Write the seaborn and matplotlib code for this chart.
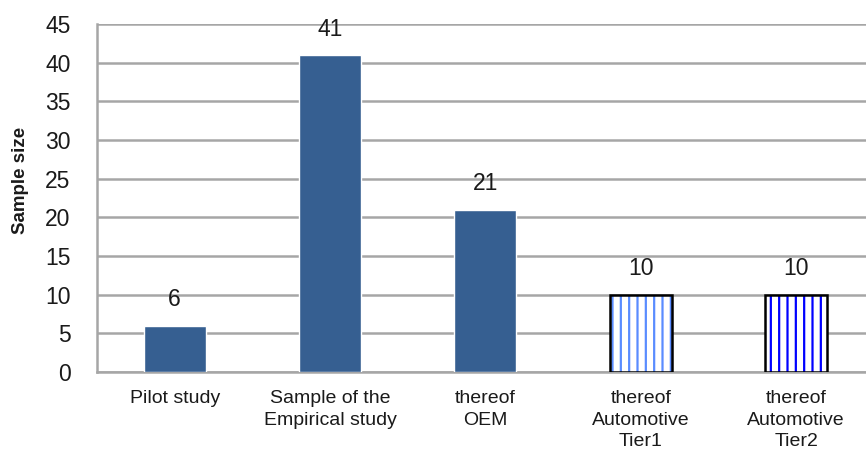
import matplotlib
matplotlib.use("Agg")
import matplotlib.pyplot as plt
from matplotlib.patches import Rectangle
import seaborn as sns
import pandas as pd

categories = ["Pilot study", "Sample of the\nEmpirical study", "thereof\nOEM",
              "thereof\nAutomotive\nTier1", "thereof\nAutomotive\nTier2"]
values = [6, 41, 21, 10, 10]
yticks = [0, 5, 10, 15, 20, 25, 30, 35, 40, 45]

solid_color = "#365F91"
hatch_colors = {3: "#5A8CFF", 4: "#0000FF"}
grid_color = "#A6A6A6"
text_color = "#1a1a1a"

sns.set_theme(style="white")
plt.rcParams["font.family"] = ["Liberation Sans", "DejaVu Sans"]
plt.rcParams["hatch.linewidth"] = 1.6

df = pd.DataFrame({"category": categories, "value": values})

fig = plt.figure(figsize=(8.66, 4.54), dpi=100)
ax = fig.add_axes([0.112, 0.1806, 0.888, 0.7665])

sns.barplot(data=df, x="category", y="value", color=solid_color,
            width=0.4, saturation=1, ax=ax, zorder=3)

# Hatched bars for the Tier subsets: blue vertical lines on white with black outline
for i, patch in enumerate(ax.patches[:len(values)]):
    if i in hatch_colors:
        patch.set_facecolor("white")
        patch.set_edgecolor(hatch_colors[i])
        patch.set_hatch("||")
        patch.set_linewidth(0)
        ax.add_patch(Rectangle(patch.get_xy(), patch.get_width(), patch.get_height(),
                               fill=False, edgecolor="black", linewidth=1.8, zorder=4))

for i, v in enumerate(values):
    ax.annotate(f"{v}", (i, v), xytext=(0, 14), textcoords="offset points",
                ha="center", va="baseline", fontsize=16.5, color=text_color)

ax.set_ylim(0, 45)
ax.set_xlim(-0.5, 4.45)
ax.set_yticks(yticks)
ax.set_yticklabels([str(t) for t in yticks], fontsize=16.5, color=text_color)
ax.set_xticks(range(len(categories)))
ax.set_xticklabels(categories, fontsize=14, color=text_color, linespacing=1.35, va="top")
ax.tick_params(axis="x", length=0, pad=13)
ax.tick_params(axis="y", length=0, pad=19)

ax.yaxis.grid(True, color=grid_color, linewidth=1.8, zorder=0)
ax.set_axisbelow(True)
for side in ["top", "right"]:
    ax.spines[side].set_visible(False)
ax.spines["left"].set_color(grid_color)
ax.spines["left"].set_linewidth(1.8)
ax.spines["bottom"].set_color(grid_color)
ax.spines["bottom"].set_linewidth(1.8)

ax.set_xlabel("")
ax.set_ylabel("Sample size", fontsize=13.5, fontweight="bold", color=text_color)
ax.yaxis.set_label_coords(-0.088, 0.55)

fig.savefig("out.png", dpi=100)
